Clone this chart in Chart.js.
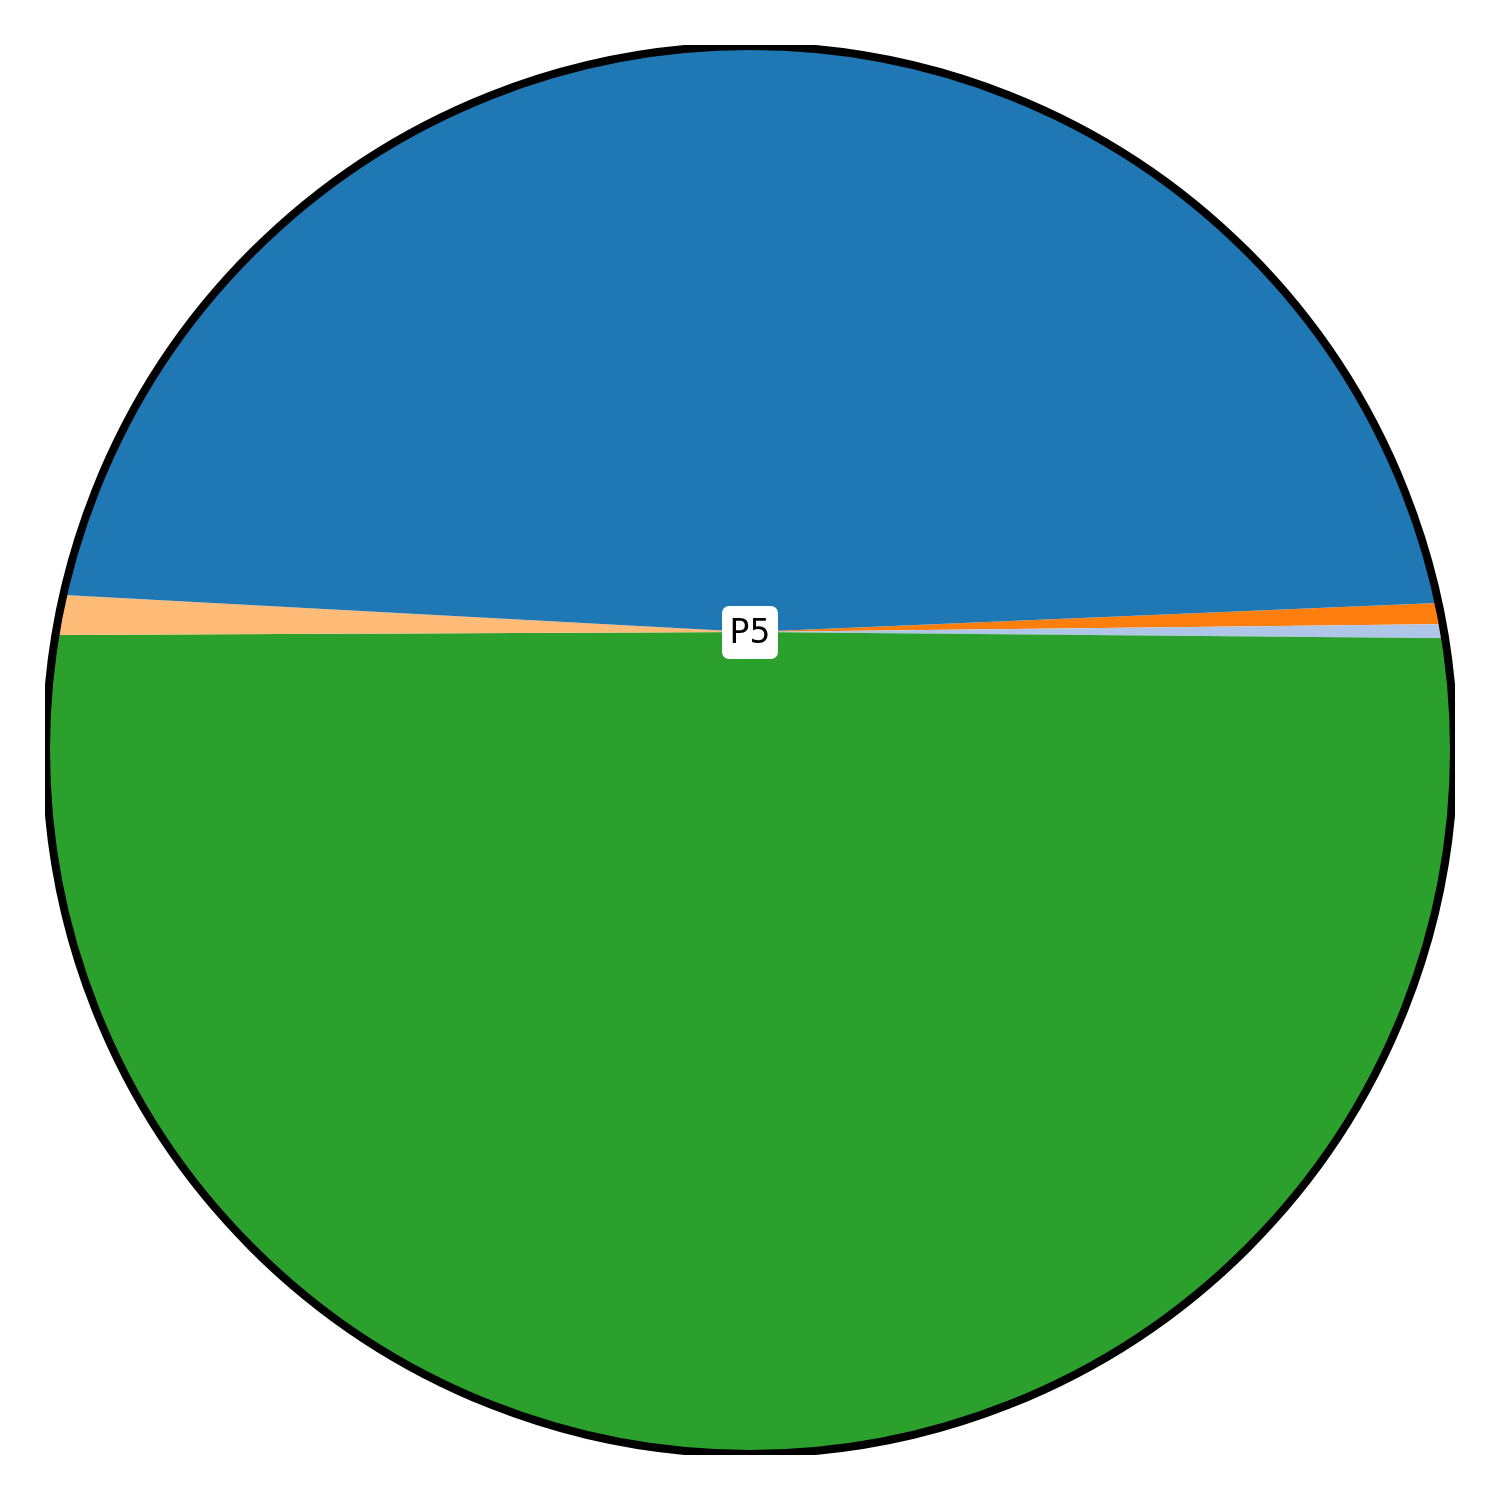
<!DOCTYPE html>
<html>
<head>
<meta charset="utf-8">
<script src="https://cdn.jsdelivr.net/npm/chart.js@4/dist/chart.umd.min.js"></script>
<style>
  html, body { margin: 0; padding: 0; background: #ffffff; overflow: hidden; }
  #wrap { position: relative; width: 1500px; height: 1500px; overflow: hidden; background: #ffffff; }
  #c { position: absolute; left: -200px; top: -318px; }
</style>
</head>
<body>
<div id="wrap"><canvas id="c" width="1900" height="1900"></canvas></div>
<script>
// Slices in drawing order (clockwise from just above 3 o'clock)
const categories = ['P1', 'P2', 'P3', 'P4', 'P5'];
const shares = [0.49, 0.32, 49.79, 0.93, 48.47];          // percent of the pie
const sliceColors = ['#ff7f0e', '#aec7e8', '#2ca02c', '#ffbb78', '#1f77b4'];
const centerLabel = 'P5';

// canvas offset inside the page (canvas is larger than the page)
const OFF_X = 200, OFF_Y = 318;
const CIRCLE = { x: 750 + OFF_X, y: 750 + OFF_Y, r: 704 };
const BOX = { x0: 45 + OFF_X, y0: 45 + OFF_Y, x1: 1455 + OFF_X, y1: 1455 + OFF_Y };

const clipPlugin = {
  id: 'circleClip',
  beforeDatasetsDraw(chart) {
    const ctx = chart.ctx;
    ctx.save();
    ctx.beginPath();
    ctx.rect(BOX.x0, BOX.y0, BOX.x1 - BOX.x0, BOX.y1 - BOX.y0);
    ctx.clip();
    ctx.beginPath();
    ctx.arc(CIRCLE.x, CIRCLE.y, CIRCLE.r, 0, Math.PI * 2);
    ctx.clip();
  },
  afterDatasetsDraw(chart) {
    const ctx = chart.ctx;
    ctx.restore();
    // circle outline, clipped by the axes box
    ctx.save();
    ctx.beginPath();
    ctx.rect(BOX.x0, BOX.y0, BOX.x1 - BOX.x0, BOX.y1 - BOX.y0);
    ctx.clip();
    ctx.beginPath();
    ctx.arc(CIRCLE.x, CIRCLE.y, CIRCLE.r, 0, Math.PI * 2);
    ctx.lineWidth = 8;
    ctx.strokeStyle = '#000000';
    ctx.stroke();
    ctx.restore();
    // center label with rounded white box
    const meta = chart.getDatasetMeta(0);
    const arc = meta.data[0];
    const cx = arc.x, cy = arc.y;
    ctx.save();
    ctx.font = '33px "DejaVu Sans"';
    const w = 56, h = 53;
    ctx.beginPath();
    ctx.roundRect(cx - w / 2, cy - h / 2 + 0.5, w, h, 7);
    ctx.fillStyle = '#ffffff';
    ctx.fill();
    ctx.fillStyle = '#000000';
    ctx.textAlign = 'center';
    ctx.textBaseline = 'middle';
    ctx.fillText(centerLabel, cx, cy + 2);
    ctx.restore();
  }
};

new Chart(document.getElementById('c'), {
  type: 'pie',
  data: {
    labels: categories,
    datasets: [{
      data: shares,
      backgroundColor: sliceColors,
      borderWidth: 0
    }]
  },
  options: {
    responsive: false,
    animation: false,
    devicePixelRatio: 1,
    rotation: 87.59,
    layout: { padding: 0 },
    plugins: {
      legend: { display: false },
      tooltip: { enabled: false }
    }
  },
  plugins: [clipPlugin]
});
</script>
</body>
</html>
